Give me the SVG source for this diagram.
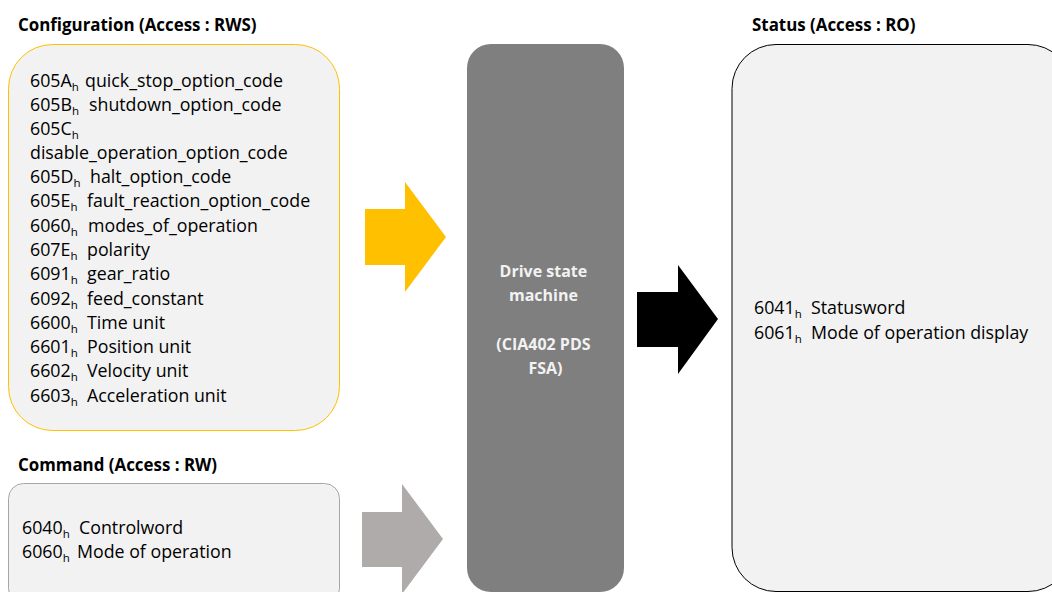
<svg xmlns="http://www.w3.org/2000/svg" width="1052" height="592" viewBox="0 0 1052 592">
<style>
.title{font-family:"Open Sans","Liberation Sans",sans-serif;font-weight:bold;font-size:16.9px;fill:#000}
.body{font-family:"Open Sans","Liberation Sans",sans-serif;font-size:17.8px;fill:#000}
.sub{font-size:11.5px}
.drv{font-family:"Open Sans","Liberation Sans",sans-serif;font-weight:bold;font-size:16px;fill:#F2F2F2}
</style>
<rect width="1052" height="592" fill="#FFFFFF"/>
<g id="config">
<text class="title" x="18" y="31">Configuration (Access : RWS)</text>
<rect x="8.5" y="44.5" width="331" height="386" rx="44" ry="44" fill="#F2F2F2" stroke="#FFC000" stroke-width="1"/>
<text class="body">
<tspan x="30" y="87">605A</tspan><tspan class="sub" dy="4">h</tspan><tspan x="85" y="87">quick_stop_option_code</tspan>
<tspan x="30" y="111">605B</tspan><tspan class="sub" dy="4">h</tspan><tspan x="89" y="111">shutdown_option_code</tspan>
<tspan x="30" y="135">605C</tspan><tspan class="sub" dy="4">h</tspan>
<tspan x="30" y="159">disable_operation_option_code</tspan>
<tspan x="30" y="183">605D</tspan><tspan class="sub" dy="4">h</tspan><tspan x="90" y="183">halt_option_code</tspan>
<tspan x="30" y="207">605E</tspan><tspan class="sub" dy="4">h</tspan><tspan x="87" y="207">fault_reaction_option_code</tspan>
<tspan x="30" y="232">6060</tspan><tspan class="sub" dy="4">h</tspan><tspan x="88" y="232">modes_of_operation</tspan>
<tspan x="30" y="256">607E</tspan><tspan class="sub" dy="4">h</tspan><tspan x="87" y="256">polarity</tspan>
<tspan x="30" y="280">6091</tspan><tspan class="sub" dy="4">h</tspan><tspan x="87" y="280">gear_ratio</tspan>
<tspan x="30" y="305">6092</tspan><tspan class="sub" dy="4">h</tspan><tspan x="87" y="305">feed_constant</tspan>
<tspan x="30" y="329">6600</tspan><tspan class="sub" dy="4">h</tspan><tspan x="87" y="329">Time unit</tspan>
<tspan x="30" y="353">6601</tspan><tspan class="sub" dy="4">h</tspan><tspan x="87" y="353">Position unit</tspan>
<tspan x="30" y="377">6602</tspan><tspan class="sub" dy="4">h</tspan><tspan x="87" y="377">Velocity unit</tspan>
<tspan x="30" y="402">6603</tspan><tspan class="sub" dy="4">h</tspan><tspan x="87" y="402">Acceleration unit</tspan>
</text>
</g>
<g id="command">
<text class="title" x="18" y="471">Command (Access : RW)</text>
<rect x="8.5" y="483.5" width="331" height="120" rx="15" ry="15" fill="#F2F2F2" stroke="#A6A6A6" stroke-width="1"/>
<text class="body">
<tspan x="22" y="534">6040</tspan><tspan class="sub" dy="4">h</tspan><tspan x="79" y="534">Controlword</tspan>
<tspan x="22" y="558">6060</tspan><tspan class="sub" dy="4">h</tspan><tspan x="77" y="558">Mode of operation</tspan>
</text>
</g>
<g id="drive">
<rect x="467" y="44" width="157" height="548" rx="24" ry="24" fill="#7F7F7F"/>
<text class="drv" text-anchor="middle">
<tspan x="545.5" y="277">Drive state</tspan>
<tspan x="545.5" y="301">machine</tspan>
<tspan x="545.5" y="350">(CIA402 PDS</tspan>
<tspan x="545.5" y="374">FSA)</tspan>
</text>
</g>
<g id="status">
<text class="title" x="752" y="31">Status (Access : RO)</text>
<rect x="732" y="44.5" width="340" height="547" rx="44" ry="44" fill="#F2F2F2" stroke="#000000" stroke-width="1"/>
<text class="body">
<tspan x="754" y="314">6041</tspan><tspan class="sub" dy="4">h</tspan><tspan x="811" y="314">Statusword</tspan>
<tspan x="754" y="339">6061</tspan><tspan class="sub" dy="4">h</tspan><tspan x="811" y="339">Mode of operation display</tspan>
</text>
</g>
<g id="connectors">
<polygon points="365,209 405,209 405,182 446,237 405,292 405,265 365,265" fill="#FFC000"/>
<polygon points="637,292 678,292 678,265 718,319 678,374 678,347 637,347" fill="#000000"/>
<polygon points="362,512 402,512 402,484 443,539 402,594 402,567 362,567" fill="#AFABAB"/>
</g>
</svg>
